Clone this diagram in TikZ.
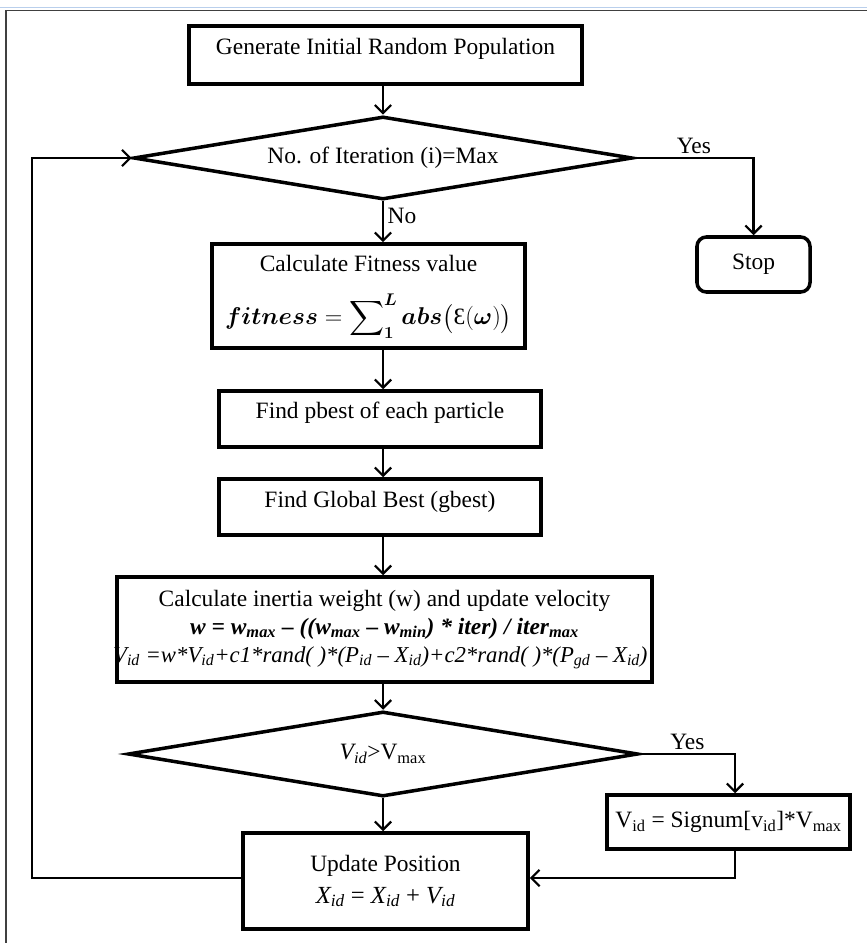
\documentclass[tikz,border=0pt]{standalone}
\usepackage{amsmath,bm}
\usepackage{fontspec}
\setmainfont{Liberation Serif}
\usetikzlibrary{shapes.geometric,arrows.meta}
\begin{document}
\begin{tikzpicture}[x=0.03cm,y=-0.03cm,
  font=\fontsize{20}{24}\selectfont,
  box/.style={draw,line width=3pt,align=center,inner sep=0pt},
  dec/.style={diamond,draw,line width=3pt,aspect=6,inner sep=0pt,align=center},
  conn/.style={line width=1.9pt},
  arr/.style={conn,-{Straight Barb[length=7pt,width=14pt]}},
  lbl/.style={inner sep=3pt}]
\useasboundingbox (0,0) rectangle (867,943);
% window frame
\draw[line width=1.5pt,color={rgb,255:red,185;green,207;blue,236}] (0,7.5) -- (867,7.5);
\draw[line width=1.3pt,black!75] (6,943) -- (6,10.5) -- (867,10.5);

\node[box,minimum width=11.79cm,minimum height=1.74cm,text height=0.84cm,text depth=0.9cm] (init) at (385.5,55) {Generate Initial Random Population};
\node[dec,minimum width=14.97cm,minimum height=2.49cm] (d1) at (383,158) {No. of Iteration (i)=Max};
\node[box,rounded corners=8pt,minimum width=3.39cm,minimum height=1.65cm] (stop) at (753.5,264.5) {Stop};
\node[box,minimum width=9.39cm,minimum height=3.12cm] (fit) at (368.5,296) {\raisebox{0pt}[16pt][0pt]{Calculate Fitness value}\\[18pt] $\displaystyle \bm{fitness}=\sum\nolimits_{\bm 1}^{\bm L}\bm{abs}\bigl(\text{Ɛ}(\bm{\omega})\bigr)$};
\node[box,minimum width=9.66cm,minimum height=1.68cm,text height=0.81cm,text depth=0.87cm] (pb) at (380,419) {Find pbest of each particle};
\node[box,minimum width=9.66cm,minimum height=1.68cm,text height=0.84cm,text depth=0.84cm] (gb) at (380,507) {Find Global Best (gbest)};
\node[box,minimum width=16.05cm,minimum height=3.15cm] (in) at (384.5,629.5) {Calculate inertia weight (w) and update velocity\\
{\bfseries\itshape w = w\textsubscript{max} – ((w\textsubscript{max} – w\textsubscript{min}) * iter) / iter\textsubscript{max}}\\
\hspace*{-0.25cm}{\fontsize{19.4}{24}\selectfont\textit{V\textsubscript{id} =w*V\textsubscript{id}+c1*rand( )*(P\textsubscript{id} – X\textsubscript{id})+c2*rand( )*(P\textsubscript{gd} – X\textsubscript{id})}}};
\node[dec,minimum width=15.3cm,minimum height=2.55cm] (d2) at (383,754) {\raisebox{2pt}{\textit{V\textsubscript{id}}>V\textsubscript{max}}};
\node[box,minimum width=7.29cm,minimum height=1.62cm] (sg) at (728.5,822) {V\textsubscript{id} = Signum[v\textsubscript{id}]*V\textsubscript{max}};
\node[box,minimum width=8.55cm,minimum height=2.88cm] (up) at (385.5,881) {Update Position\\[3pt] {\fontsize{21}{24}\selectfont\textit{X\textsubscript{id}} = \textit{X\textsubscript{id}} + \textit{V\textsubscript{id}}}};

\coordinate (sgin) at (735,0);
\coordinate (ly) at (0,878);
\coordinate (lx) at (32,0);

\draw[arr] (d1.north |- init.south) -- (d1.north);
\draw[arr] (d1.east) -| (stop.north) node[lbl,pos=0.25,above] {Yes};
\draw[arr] (d1.south) -- (d1.south |- fit.north) node[lbl,pos=0.35,right] {No};
\draw[arr] (d1.south |- fit.south) -- (d1.south |- pb.north);
\draw[arr] (d1.south |- pb.south) -- (d1.south |- gb.north);
\draw[arr] (d1.south |- gb.south) -- (d1.south |- in.north);
\draw[arr] (d1.south |- in.south) -- (d2.north);
\draw[arr] (d2.east) -| (sgin |- sg.north) node[lbl,pos=0.25,above] {Yes};
\draw[arr] (d2.south) -- (d2.south |- up.north);
\draw[arr] (sgin |- sg.south) |- (up.east |- ly);
\draw[arr] (up.west |- ly) -| (lx |- d1.west) -- (d1.west);
\end{tikzpicture}
\end{document}
